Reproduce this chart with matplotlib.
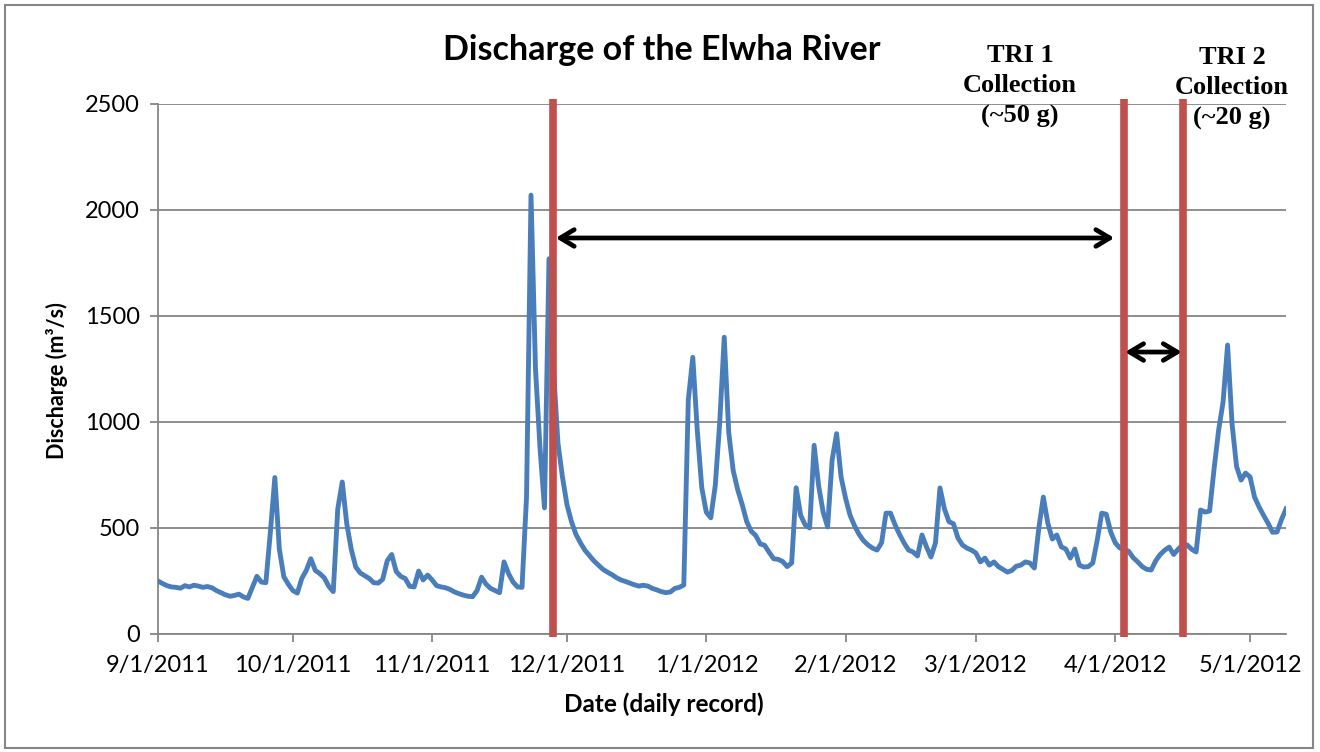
import matplotlib
matplotlib.use('Agg')
import matplotlib.pyplot as plt
import pandas as pd
from matplotlib.patches import Rectangle

# ---- data (daily discharge, m3/s) ----
start_date = '2011-09-01'
sep = [250, 238, 228, 222, 220, 216, 228, 222, 230, 226, 220, 224, 218, 205, 195,
       185, 178, 182, 188, 175, 168, 220, 272, 245, 242, 480, 738, 400, 270, 235]
oct_ = [205, 193, 262, 300, 355, 300, 285, 265, 225, 200, 590, 717, 520, 400, 316,
        288, 275, 262, 242, 240, 258, 345, 375, 295, 272, 262, 225, 222, 297, 255, 278]
nov = [255, 228, 222, 218, 210, 198, 190, 183, 178, 176, 205, 268, 235, 215, 205,
       195, 340, 285, 245, 222, 220, 645, 2070, 1250, 880, 595, 1770, 1250, 900, 740]
dec = [610, 530, 470, 430, 395, 370, 345, 325, 305, 292, 280, 266, 255, 248, 240,
       232, 226, 230, 226, 215, 208, 200, 195, 198, 215, 220, 231, 1104, 1305, 960, 690]
jan = [575, 548, 700, 1000, 1400, 950, 770, 680, 610, 530, 485, 465, 425, 418, 385,
       355, 352, 342, 318, 335, 690, 560, 515, 500, 890, 700, 575, 505, 820, 945, 740]
feb = [640, 560, 510, 470, 440, 420, 405, 396, 430, 570, 570, 515, 470, 430, 396,
       387, 368, 467, 411, 363, 430, 689, 590, 530, 520, 453, 420, 405, 396]
mar = [382, 340, 358, 325, 340, 318, 305, 292, 300, 320, 325, 340, 335, 311, 500,
       646, 523, 448, 467, 411, 401, 358, 401, 325, 316, 318, 335, 443, 570, 565, 481]
apr = [430, 406, 400, 390, 360, 340, 318, 305, 302, 345, 375, 395, 410, 375, 400,
       420, 420, 400, 387, 585, 575, 580, 780, 960, 1095, 1363, 990, 790, 726, 759]
may = [741, 646, 600, 560, 523, 480, 481, 540, 590]

tick_dates = ['2011-09-01', '2011-10-01', '2011-11-01', '2011-12-01', '2012-01-01',
              '2012-02-01', '2012-03-01', '2012-04-01', '2012-05-01']
tick_labels = ['9/1/2011', '10/1/2011', '11/1/2011', '12/1/2011', '1/1/2012',
               '2/1/2012', '3/1/2012', '4/1/2012', '5/1/2012']
y_ticks = [0, 500, 1000, 1500, 2000, 2500]

collection_dates = ['2011-11-28', '2012-04-03', '2012-04-16']
annotations = ['TRI 1\nCollection\n(~50 g)', 'TRI 2\nCollection\n(~20 g)']

values = sep + oct_ + nov + dec + jan + feb + mar + apr + may
dates = pd.date_range(start_date, periods=len(values), freq='D')
cd = pd.to_datetime(collection_dates)

BLUE = '#4A7EBB'
RED = '#C0504D'
GRID = '#868686'
SANS = 'Lato'

fig = plt.figure(figsize=(13.2, 7.52), dpi=100)
ax = fig.add_axes([158 / 1320, 1 - 634 / 752, (1286 - 158) / 1320, (634 - 104) / 752])

ax.plot(dates, values, color=BLUE, lw=3.5, solid_joinstyle='round', zorder=3)

ax.set_ylim(0, 2500)
ax.set_xlim(dates[0], dates[-1])
ax.set_xticks(pd.to_datetime(tick_dates))
ax.set_xticklabels(tick_labels)
ax.set_yticks(y_ticks)
ax.grid(axis='y', color=GRID, lw=1.3)
ax.set_axisbelow(True)
for s in ['top', 'right']:
    ax.spines[s].set_visible(False)
for s in ['left', 'bottom']:
    ax.spines[s].set_color(GRID)
    ax.spines[s].set_linewidth(1.3)
ax.tick_params(axis='both', color=GRID, width=1.3, length=6, labelsize=17)
ax.tick_params(axis='y', pad=7)
ax.tick_params(axis='x', pad=9)
for lab in ax.get_xticklabels() + ax.get_yticklabels():
    lab.set_family(SANS)

# collection lines
for d in cd:
    ax.plot([d, d], [-12, 2525], color=RED, lw=5.5, clip_on=False, zorder=4,
            solid_capstyle='butt')

# arrows between collections
arrow_kw = dict(arrowstyle='<->,head_length=1.0,head_width=0.6', lw=3.4,
                color='black', shrinkA=0, shrinkB=0)
ax.annotate('', xy=(cd[1] - pd.Timedelta(days=2.2), 1868),
            xytext=(cd[0] + pd.Timedelta(days=0.5), 1868), arrowprops=arrow_kw, zorder=5)
ax.annotate('', xy=(cd[2] - pd.Timedelta(days=0.2), 1330),
            xytext=(cd[1] + pd.Timedelta(days=0.2), 1330), arrowprops=arrow_kw, zorder=5)

# text
fig.text(662 / 1320, 1 - 50 / 752, 'Discharge of the Elwha River', ha='center',
         va='center', family=SANS, weight='bold', size=24.5)
fig.text(664 / 1320, 1 - 704 / 752, 'Date (daily record)', ha='center', va='center',
         family=SANS, weight='bold', size=17.5)
fig.text(57 / 1320, 1 - 381 / 752, 'Discharge (m³/s)', ha='center', va='center',
         rotation=90, family=SANS, weight='bold', size=15.5)
fig.text(1020 / 1320, 1 - 86 / 752, annotations[0], ha='center', va='center',
         family='Liberation Serif', weight='bold', size=19, linespacing=1.38)
fig.text(1232 / 1320, 1 - 88 / 752, annotations[1], ha='center', va='center',
         family='Liberation Serif', weight='bold', size=19, linespacing=1.38)

# chart border
fig.patches.append(Rectangle((5 / 1320, 4 / 752), 1308 / 1320, 743 / 752,
                             transform=fig.transFigure, fill=False,
                             edgecolor=GRID, lw=1.5))

fig.savefig('out.png', dpi=100)
